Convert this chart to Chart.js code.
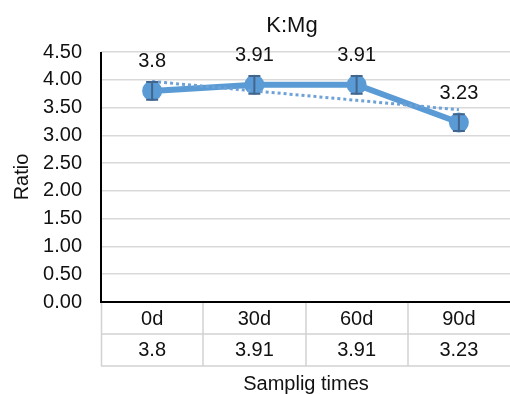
<!DOCTYPE html>
<html>
<head>
<meta charset="utf-8">
<script src="https://cdn.jsdelivr.net/npm/chart.js@4"></script>
<style>
  html, body { margin: 0; padding: 0; background: #fff; }
  #wrap { width: 510px; height: 394px; }
</style>
</head>
<body>
<div id="wrap"><canvas id="c" width="510" height="394"></canvas></div>
<script>
const categories = ['0d', '30d', '60d', '90d'];
const ratioValues = [3.8, 3.91, 3.91, 3.23];
const errorValues = [0.16, 0.16, 0.16, 0.15];
const trendValues = [3.97, 3.80, 3.63, 3.46];
const yTicks = [0, 0.5, 1, 1.5, 2, 2.5, 3, 3.5, 4, 4.5];
const titleText = 'K:Mg';
const yTitle = 'Ratio';
const xTitle = 'Samplig times';

const FONT = '"Liberation Sans", Arial, sans-serif';
const FS = 20;

const extras = {
  id: 'extras',
  afterDatasetsDraw(chart) {
    const ctx = chart.ctx;
    const x = chart.scales.x, y = chart.scales.y;
    ctx.save();
    // error bars
    ctx.strokeStyle = '#41658c';
    ctx.lineWidth = 2;
    ratioValues.forEach((v, i) => {
      const px = x.getPixelForValue(i);
      const t = y.getPixelForValue(v + errorValues[i]);
      const b = y.getPixelForValue(v - errorValues[i]);
      ctx.beginPath();
      ctx.moveTo(px, t); ctx.lineTo(px, b);
      ctx.moveTo(px - 6, t); ctx.lineTo(px + 6, t);
      ctx.moveTo(px - 6, b); ctx.lineTo(px + 6, b);
      ctx.stroke();
    });
    // data labels
    ctx.fillStyle = '#111';
    ctx.font = FS + 'px ' + FONT;
    ctx.textAlign = 'center';
    ctx.textBaseline = 'middle';
    ratioValues.forEach((v, i) => {
      ctx.fillText(String(v), x.getPixelForValue(i), y.getPixelForValue(v) - 29);
    });
    ctx.restore();
  },
  afterDraw(chart) {
    const ctx = chart.ctx;
    const x = chart.scales.x;
    const ca = chart.chartArea;
    ctx.save();
    // title
    ctx.fillStyle = '#111';
    ctx.font = '22px ' + FONT;
    ctx.textAlign = 'center';
    ctx.textBaseline = 'middle';
    ctx.fillText(titleText, 292, 26);
    // data table
    const rowH = 32;
    const top = ca.bottom;
    const step = (ca.right - ca.left) / categories.length;
    ctx.strokeStyle = '#d2d2d2';
    ctx.lineWidth = 1.5;
    ctx.beginPath();
    ctx.moveTo(ca.left, top + rowH); ctx.lineTo(ca.right, top + rowH);
    ctx.moveTo(ca.left, top + 2 * rowH); ctx.lineTo(ca.right, top + 2 * rowH);
    for (let i = 1; i < categories.length; i++) {
      const bx = Math.round(ca.left + step * i);
      ctx.moveTo(bx, top); ctx.lineTo(bx, top + 2 * rowH);
    }
    ctx.moveTo(ca.left + 0.5, top); ctx.lineTo(ca.left + 0.5, top + 2 * rowH);
    ctx.stroke();
    ctx.font = FS + 'px ' + FONT;
    categories.forEach((c, i) => {
      const px = x.getPixelForValue(i);
      ctx.fillText(c, px, top + 17);
      ctx.fillText(String(ratioValues[i]), px, top + 48);
    });
    ctx.fillText(xTitle, 306, 384);
    // axis lines
    ctx.strokeStyle = '#000';
    ctx.lineWidth = 2;
    ctx.beginPath();
    ctx.moveTo(ca.left, ca.top);
    ctx.lineTo(ca.left, ca.bottom);
    ctx.lineTo(ca.right, ca.bottom);
    ctx.stroke();
    ctx.restore();
  }
};

new Chart(document.getElementById('c'), {
  type: 'line',
  data: {
    labels: categories,
    datasets: [
      {
        label: 'Linear',
        data: trendValues,
        borderColor: '#6ea2d6',
        borderWidth: 3,
        borderDash: [3, 3],
        pointRadius: 0,
        fill: false,
        order: 1
      },
      {
        label: 'K:Mg',
        data: ratioValues,
        borderColor: '#5b9bd5',
        backgroundColor: '#5b9bd5',
        borderWidth: 6,
        pointRadius: 7,
        pointBackgroundColor: '#5b9bd5',
        pointBorderColor: '#5b9bd5',
        fill: false,
        order: 2
      }
    ]
  },
  options: {
    responsive: false,
    animation: false,
    events: [],
    layout: { autoPadding: false, padding: { top: 52, right: 0, bottom: 92, left: 0 } },
    plugins: { legend: { display: false }, tooltip: { enabled: false }, title: { display: false } },
    scales: {
      x: { display: false, offset: true },
      y: {
        min: 0, max: 4.5,
        afterFit(s) { s.width = 101; },
        afterBuildTicks(s) { s.ticks = yTicks.map(v => ({ value: v })); },
        grid: { color: '#d9d9d9', lineWidth: 1.5, drawTicks: false },
        border: { display: false },
        ticks: {
          padding: 19,
          color: '#111',
          font: { family: FONT, size: FS },
          callback: v => Number(v).toFixed(2)
        },
        title: {
          display: true,
          text: yTitle,
          color: '#111',
          font: { family: FONT, size: FS },
          padding: { top: 10, bottom: 0 }
        }
      }
    }
  },
  plugins: [extras]
});
</script>
</body>
</html>
